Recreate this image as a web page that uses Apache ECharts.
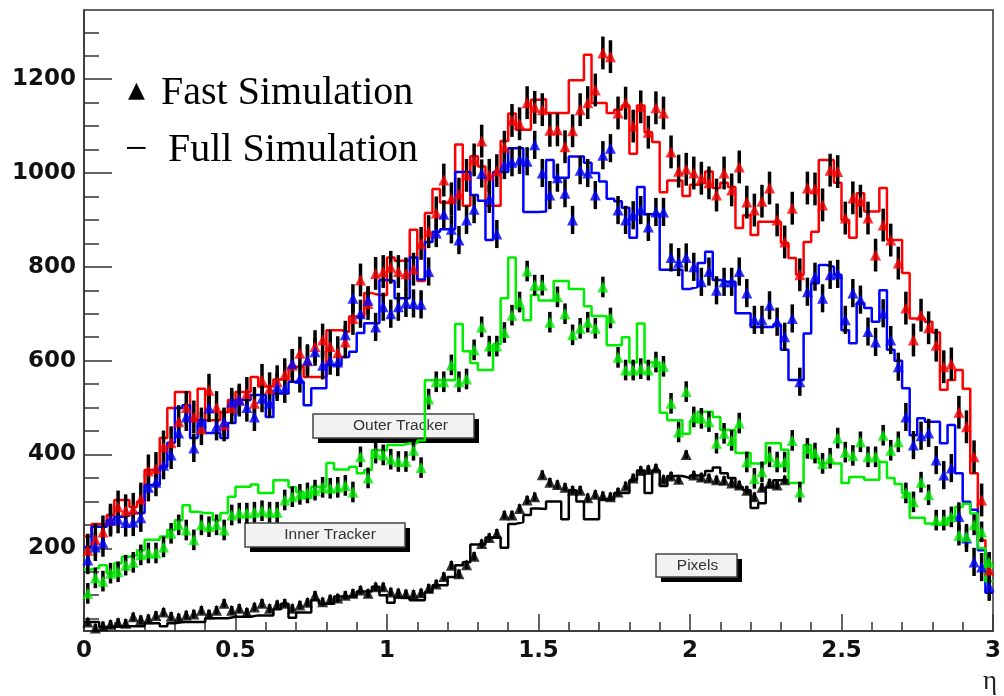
<!DOCTYPE html>
<html>
<head>
<meta charset="utf-8">
<script src="https://cdn.jsdelivr.net/npm/echarts@6/dist/echarts.min.js"></script>
<style>
html,body{margin:0;padding:0;background:#fff;}
#chart{width:1004px;height:696px;}
</style>
</head>
<body>
<div id="chart"></div>
<script>
// ---- binning (120 bins of 0.025 in eta) ----
const ETA_MIN = 0, ETA_MAX = 3, NBINS = 120;
const BIN_W = (ETA_MAX - ETA_MIN) / NBINS;
const etaCenters = Array.from({length: NBINS}, (_, i) => ETA_MIN + (i + 0.5) * BIN_W);

// ---- axis tick values ----
const xMajorTicks = [0, 0.5, 1, 1.5, 2, 2.5, 3];
const yMajorTicks = [200, 400, 600, 800, 1000, 1200];
const yMinorTicks = [50,100,150,200,250,300,350,400,450,500,550,600,650,700,750,800,850,900,950,1000,1050,1100,1150,1200,1250,1300];
const Y_MIN = 23.7, Y_MAX = 1347.5;

// ---- Full simulation histograms (per bin) ----
const fullOuter = [
225,252,252,271,303,303,288,300,367,367,435,499,533,533,473,540,473,473,490,516,
533,533,565,545,545,560,560,587,587,565,565,565,665,665,661,694,694,744,740,740,
820,813,813,879,770,915,966,937,937,1061,930,1036,1014,930,930,1068,1127,1092,1092,1156,
1157,1128,1128,1128,1198,1198,1252,1149,1149,1128,1135,1144,1041,1144,1087,1066,959,984,984,951,
975,979,1003,968,979,970,883,910,868,896,896,896,851,819,783,853,875,1028,1028,979,
900,862,957,918,918,968,857,857,787,690,690,683,660,538,559,580,540,360,217,147];
const fullMiddle = [
203,246,246,260,267,270,275,275,335,335,374,425,499,505,435,473,446,446,435,467,
516,516,527,527,480,530,530,555,555,505,541,541,591,591,608,619,659,680,680,772,
770,733,733,820,773,853,875,880,880,1002,1002,953,941,857,1002,1002,1053,1053,917,917,
918,1028,990,990,1035,1035,1022,1000,982,945,940,926,862,970,912,912,794,794,794,753,
757,808,832,772,768,768,701,701,672,672,672,677,623,559,559,658,765,804,800,783,
665,637,723,712,683,750,623,600,541,441,477,470,470,424,463,360,299,282,196,105];
const fullInner = [
155,158,164,147,168,182,185,196,218,218,225,239,260,292,278,275,275,260,275,310,
331,331,336,318,318,345,345,330,320,307,331,331,382,368,368,374,360,367,409,409,
420,420,424,424,430,558,558,558,558,678,620,595,580,580,635,733,820,711,686,740,
728,728,770,770,753,753,716,695,695,633,633,650,596,679,596,596,489,473,473,444,
470,491,491,480,452,452,403,403,381,381,424,424,410,339,339,420,392,381,381,381,
339,352,352,346,346,384,350,337,318,265,265,253,250,250,265,288,295,274,200,130];
const fullPixels = [
43,43,32,32,34,34,34,34,40,40,34,40,43,43,43,43,51,51,51,54,
54,54,57,57,57,70,82,52,63,63,89,82,82,97,97,97,108,108,118,100,
84,95,95,89,89,107,121,121,139,164,170,208,208,223,223,201,252,256,271,285,
284,300,300,262,324,300,262,262,304,304,318,318,345,366,318,366,333,354,354,350,
355,355,365,372,360,350,330,324,286,296,330,345,345,null,null,null,null,null,null,null,
null,null,null,null,null,null,null,null,null,null,null,null,null,null,null,null,null,null,null,null];

// ---- Fast simulation points (per bin) ----
const fastOuter = [
196,218,235,260,288,280,283,305,365,370,416,425,470,500,480,455,537,500,463,500,
516,530,509,558,540,555,570,590,616,600,630,644,630,617,640,690,772,722,786,790,
799,790,785,795,850,875,915,985,945,955,995,1028,1068,995,1005,1055,1112,1105,1150,1140,
1135,1091,1092,1056,1090,1135,1150,1177,1256,1248,1128,1149,1100,1141,1087,1139,1128,1045,1004,1008,
1000,989,979,953,1000,964,1013,938,921,940,968,900,853,925,783,968,966,932,1006,1003,
904,947,940,904,825,889,857,808,712,644,697,670,633,587,593,490,459,395,303,154];
const fastMiddle = [
175,203,212,260,262,255,256,265,330,341,377,399,446,480,414,470,499,460,470,512,
516,500,480,520,509,544,540,594,562,601,619,590,600,597,655,733,700,729,672,715,
700,715,723,722,720,790,872,912,880,857,900,923,999,945,870,1017,1023,1028,1025,1060,
1000,953,990,957,900,1006,1000,953,1038,1053,921,900,910,921,885,917,917,820,810,820,
800,768,790,750,768,768,790,744,687,687,718,683,651,690,555,747,779,733,783,785,
687,744,730,662,640,701,644,587,480,420,440,446,388,356,371,268,222,171,160,118];
const fastInner = [
104,137,130,147,150,164,170,186,190,190,203,232,250,239,218,250,246,250,239,271,
275,275,277,280,277,277,303,310,315,318,324,330,328,330,334,320,395,350,403,399,
390,385,385,409,372,518,555,555,591,555,561,623,672,631,631,660,697,725,791,761,
761,682,736,700,655,669,682,669,757,691,607,580,580,583,580,597,588,509,448,534,
480,477,470,424,445,430,467,384,349,363,395,384,384,430,320,413,403,381,392,435,
405,398,427,395,395,441,409,427,318,299,341,314,260,260,267,228,225,250,235,170];
const fastPixels = [
43,30,35,38,42,40,54,48,50,57,64,55,52,58,60,68,60,68,83,68,
72,64,75,83,72,80,83,72,79,85,100,86,92,94,100,104,111,104,118,118,
107,105,103,102,105,115,124,140,164,146,165,183,210,223,232,271,271,285,303,310,
357,341,336,330,324,324,308,315,312,310,320,333,350,366,368,371,347,354,347,400,
356,352,350,346,345,339,335,324,310,330,339,335,346,null,null,null,null,null,null,null,
null,null,null,null,null,null,null,null,null,null,null,null,null,null,null,null,null,null,null,null];

// half-length of the error bars drawn on the fast-simulation points
const errOuter = 35, errMiddle = 30, errInner = 22, errPixels = 9;

const detectors = [
  {name:'Outer', color:'#ff0000', full: fullOuter, fast: fastOuter, err: errOuter},
  {name:'Middle', color:'#0000ff', full: fullMiddle, fast: fastMiddle, err: errMiddle},
  {name:'Inner', color:'#00ee00', full: fullInner, fast: fastInner, err: errInner},
  {name:'Pixels', color:'#000000', full: fullPixels, fast: fastPixels, err: errPixels}
];

function stepData(vals) {
  const pts = [];
  let last = -1;
  vals.forEach((v, i) => { if (v != null) { pts.push([ETA_MIN + i * BIN_W, v]); last = i; } });
  if (last >= 0) pts.push([ETA_MIN + (last + 1) * BIN_W, vals[last]]);
  return pts;
}
function pointData(vals) {
  const pts = [];
  vals.forEach((v, i) => { if (v != null) pts.push([etaCenters[i], v]); });
  return pts;
}

const series = [];
detectors.forEach(d => {
  series.push({
    type: 'line', step: 'end', data: stepData(d.full), showSymbol: false, symbol: 'none',
    lineStyle: {color: d.color, width: 2.5}, z: 2, silent: true
  });
});
detectors.forEach(d => {
  const e = d.err;
  series.push({
    type: 'custom', data: pointData(d.fast), z: 3, silent: true,
    renderItem: (params, api) => {
      const x = api.value(0), v = api.value(1);
      const p1 = api.coord([x, v - e]);
      const p2 = api.coord([x, v + e]);
      return {type: 'line', shape: {x1: p1[0], y1: p1[1], x2: p2[0], y2: p2[1]},
              style: {stroke: '#000', lineWidth: 3.5}};
    }
  });
  series.push({
    type: 'scatter', data: pointData(d.fast), symbol: 'triangle', symbolSize: [11, 11],
    itemStyle: {color: d.color}, z: 4, silent: true
  });
});

function box(x, y, w, h, label, dx) {
  return {
    type: 'group', children: [
      {type: 'rect', shape: {x: x + 5, y: y + 5, width: w, height: h}, style: {fill: '#000'}},
      {type: 'rect', shape: {x: x, y: y, width: w, height: h}, style: {fill: '#f2f2f2', stroke: '#444', lineWidth: 1.5}},
      {type: 'text', x: x + w / 2 + dx, y: y + h / 2, style: {text: label, fill: '#333', font: '15.5px "Liberation Sans", Arial, sans-serif', align: 'center', verticalAlign: 'middle'}}
    ]
  };
}

const labelFont = '"DejaVu Sans", "Liberation Sans", Arial, sans-serif';
const chart = echarts.init(document.getElementById('chart'), null, {renderer: 'canvas'});
chart.setOption({
  animation: false,
  backgroundColor: '#ffffff',
  grid: {left: 84, right: 6, top: 10, bottom: 65, show: true, borderColor: '#333', borderWidth: 1.5, backgroundColor: 'transparent'},
  xAxis: {
    type: 'value', min: ETA_MIN, max: ETA_MAX, interval: 0.5,
    axisLine: {lineStyle: {color: '#333', width: 1.5}},
    axisTick: {inside: true, length: 17, lineStyle: {color: '#333', width: 1.5}},
    minorTick: {show: true, splitNumber: 5, length: 9, lineStyle: {color: '#333', width: 1.5}},
    splitLine: {show: false}, minorSplitLine: {show: false},
    axisLabel: {margin: 9, color: '#111', fontSize: 23, fontWeight: 'bold', fontFamily: labelFont,
      formatter: v => xMajorTicks.includes(v) ? String(v) : ''}
  },
  yAxis: [{
    type: 'value', min: Y_MIN, max: Y_MAX,
    axisLine: {show: true, lineStyle: {color: '#333', width: 1.5}},
    axisTick: {inside: true, length: 28, customValues: yMajorTicks, lineStyle: {color: '#333', width: 1.5}},
    axisLabel: {customValues: yMajorTicks, margin: 8, color: '#111', fontSize: 23, fontWeight: 'bold', fontFamily: labelFont,
      formatter: v => String(v)},
    splitLine: {show: false}
  }, {
    type: 'value', min: Y_MIN, max: Y_MAX, position: 'left',
    axisLine: {show: false},
    axisTick: {inside: true, length: 15, customValues: yMinorTicks, lineStyle: {color: '#333', width: 1.5}},
    axisLabel: {show: false},
    splitLine: {show: false}
  }],
  series: series,
  graphic: [
    {type: 'text', left: 128, top: 80, style: {text: '▲', fill: '#000', font: '22px "DejaVu Sans", sans-serif'}},
    {type: 'text', left: 161, top: 73, style: {text: 'Fast Simulation', fill: '#000', font: '40px "Liberation Serif", "Times New Roman", serif'}},
    {type: 'text', left: 125, top: 130, style: {text: '−', fill: '#000', font: '40px "Liberation Serif", "Times New Roman", serif'}},
    {type: 'text', left: 168, top: 130, style: {text: 'Full Simulation', fill: '#000', font: '40px "Liberation Serif", "Times New Roman", serif'}},
    box(313, 414, 161, 24, 'Outer Tracker', 7),
    box(245, 523, 160, 24, 'Inner Tracker', 5),
    box(656, 554, 81, 23, 'Pixels', 1),
    {type: 'text', left: 983, top: 668, style: {text: 'η', fill: '#222', font: '27px "Liberation Serif", "Times New Roman", serif'}}
  ]
});
</script>
</body>
</html>
